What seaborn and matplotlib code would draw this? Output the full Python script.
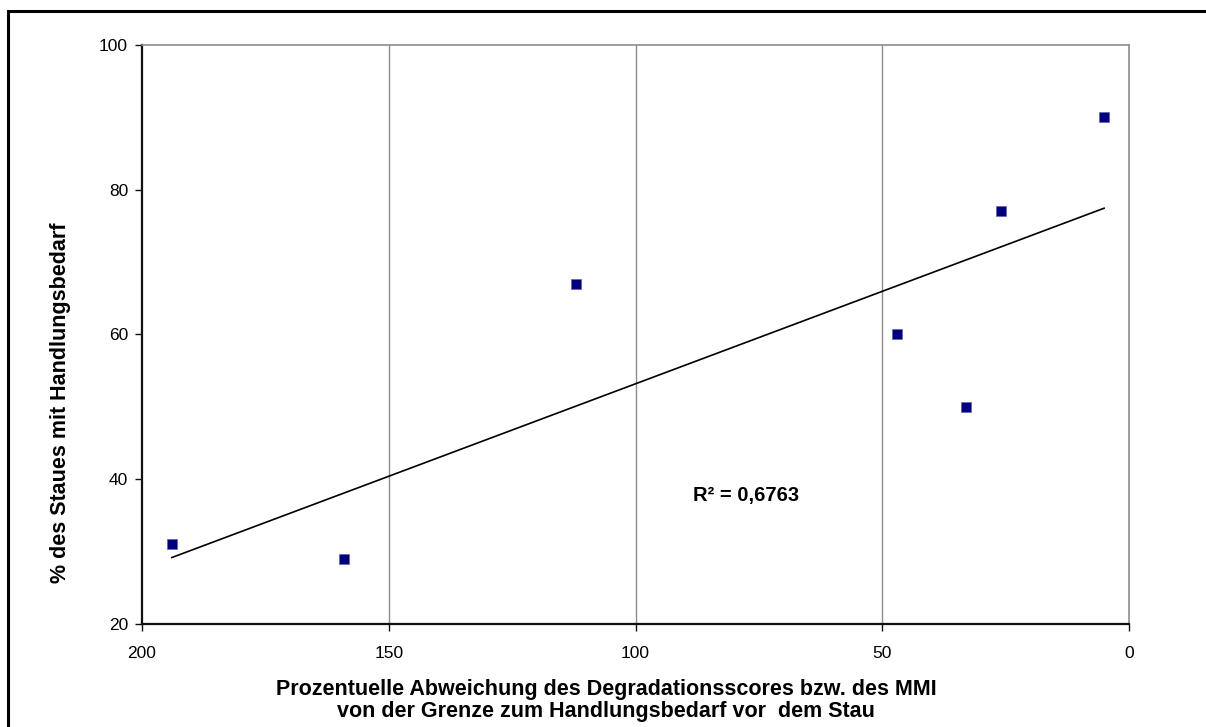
import numpy as np
import pandas as pd
import matplotlib
matplotlib.use("Agg")
import matplotlib.pyplot as plt
import seaborn as sns
from matplotlib.patches import Rectangle

# Data
abweichung = [194, 159, 112, 47, 33, 26, 5]
anteil_staue = [31, 29, 67, 60, 50, 77, 90]
x_ticks = [200, 150, 100, 50, 0]
y_ticks = [20, 40, 60, 80, 100]
r2_label = "R² = 0,6763"

df = pd.DataFrame({"x": abweichung, "y": anteil_staue})

sns.set_theme(style="white")
plt.rcParams["font.family"] = ["Liberation Sans", "DejaVu Sans"]
plt.rcParams["text.color"] = "black"
plt.rcParams["xtick.color"] = "black"
plt.rcParams["ytick.color"] = "black"

fig = plt.figure(figsize=(12.06, 7.27), dpi=100)
ax = fig.add_axes([142 / 1206, 1 - 624 / 727, (1129 - 142) / 1206, (624 - 45) / 727])

# Trend line (linear least squares fit over the data range)
sns.regplot(data=df, x="x", y="y", ax=ax, ci=None, truncate=True,
            scatter=False, line_kws=dict(color="black", lw=1.2, zorder=2))
# Points
sns.scatterplot(data=df, x="x", y="y", ax=ax, marker="s", s=62,
                color="#000080", edgecolor="#5a5ab0", linewidth=0.4, zorder=3)

ax.set_xlim(200, 0)
ax.set_ylim(20, 100)
ax.set_xticks(x_ticks)
ax.set_yticks(y_ticks)
ax.set_xticklabels([str(t) for t in x_ticks], fontsize=12.5, color="black")
ax.set_yticklabels([str(t) for t in y_ticks], fontsize=12.5, color="black")

for xv in [150, 100, 50]:
    ax.axvline(xv, color="#8c8c8c", lw=1.0, zorder=1)

for side in ["left", "bottom"]:
    ax.spines[side].set_color("#111111")
    ax.spines[side].set_linewidth(1.6)
for side in ["top", "right"]:
    ax.spines[side].set_color("#8c8c8c")
    ax.spines[side].set_linewidth(1.2)

ax.tick_params(axis="both", which="major", direction="out", length=5,
               width=1.0, color="#111111", bottom=True, left=True, pad=5)
ax.tick_params(axis="x", pad=11)

ax.set_xlabel("")
ax.set_ylabel("")

fig.text(61 / 1206, 1 - 403 / 727, "% des Staues mit Handlungsbedarf",
         rotation=90, ha="center", va="center", fontsize=15.5,
         fontweight="bold", color="black")

fig.text(606 / 1206, 1 - 690 / 727,
         "Prozentuelle Abweichung des Degradationsscores bzw. des MMI",
         ha="center", va="center", fontsize=15.5, fontweight="bold", color="black")
fig.text(606 / 1206, 1 - 712 / 727,
         "von der Grenze zum Handlungsbedarf vor  dem Stau",
         ha="center", va="center", fontsize=15.5, fontweight="bold", color="black")

ax.text((746 - 142) / (1129 - 142), (624 - 495) / (624 - 45), r2_label,
        transform=ax.transAxes, ha="center", va="center",
        fontsize=14.5, fontweight="bold", color="black")

# outer chart frame (left and top edges visible)
fig.patches.append(Rectangle((8 / 1206, -0.1), 1.2, 1.1 - 11 / 727,
                             transform=fig.transFigure, fill=False,
                             edgecolor="black", lw=2.2))

fig.savefig("out.png", dpi=100, facecolor="white")
